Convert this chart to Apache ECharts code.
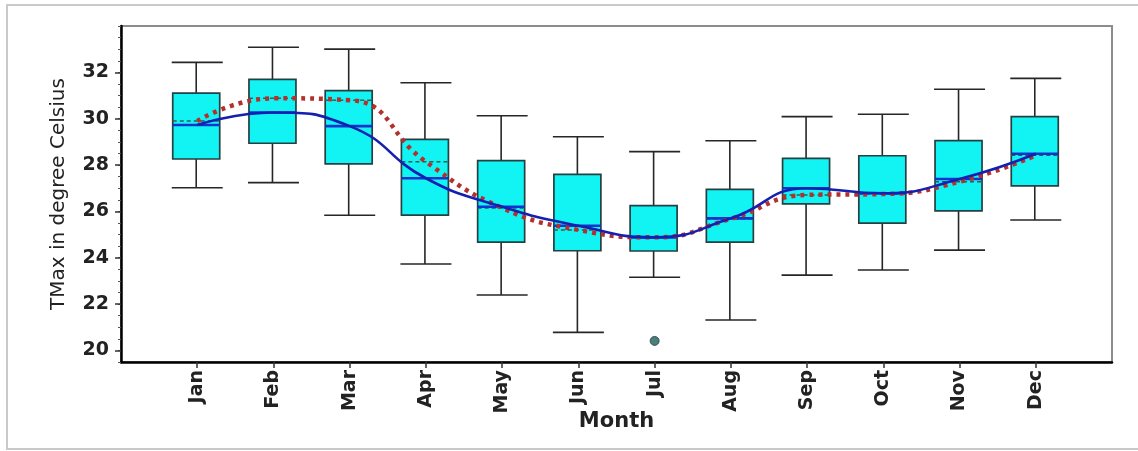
<!DOCTYPE html>
<html>
<head>
<meta charset="utf-8">
<script src="https://cdn.jsdelivr.net/npm/echarts@6/dist/echarts.min.js"></script>
<style>
  html, body { margin: 0; padding: 0; background: #ffffff; }
  #chart { width: 1138px; height: 451px; }
</style>
</head>
<body>
<div id="chart"></div>
<script>
// Monthly maximum temperature distribution (°C)
const months = ['Jan', 'Feb', 'Mar', 'Apr', 'May', 'Jun', 'Jul', 'Aug', 'Sep', 'Oct', 'Nov', 'Dec'];
const lowWhisker  = [27.02, 27.24, 25.83, 23.73, 22.39, 20.78, 23.16, 21.31, 23.25, 23.47, 24.33, 25.63];
const quartile1   = [28.26, 28.94, 28.05, 25.84, 24.67, 24.30, 24.29, 24.67, 26.32, 25.49, 26.02, 27.10];
const medians     = [29.73, 30.27, 29.68, 27.43, 26.20, 25.38, 24.88, 25.70, 27.00, 26.78, 27.40, 28.49];
const quartile3   = [31.10, 31.70, 31.21, 29.11, 28.19, 27.60, 26.25, 26.95, 28.29, 28.40, 29.05, 30.09];
const highWhisker = [32.43, 33.08, 33.00, 31.55, 30.13, 29.22, 28.58, 29.05, 30.09, 30.19, 31.27, 31.74];
const means       = [29.90, 30.88, 30.80, 28.14, 26.15, 25.20, 24.88, 25.68, 26.71, 26.75, 27.28, 28.42];
const outlierMonths = ['Jul'];
const outlierValues = [20.41];
const yTickValues = [20, 22, 24, 26, 28, 30, 32];

// Category axis padded with an empty slot on each side
const axisCategories = [''].concat(months, ['']);
const pos = m => months.indexOf(m) + 1;

const boxData = months.map((m, i) => [pos(m), lowWhisker[i], quartile1[i], medians[i], quartile3[i], highWhisker[i], means[i]]);
const medianLine = months.map((m, i) => [pos(m), medians[i]]);
const meanLine = months.map((m, i) => [pos(m), means[i]]);
const outliers = outlierMonths.map((m, i) => [pos(m), outlierValues[i]]);

const BOX_W = 47;
const CAP_W = 51;

function renderBox(params, api) {
  const x = api.value(0);
  const lo = api.coord([x, api.value(1)]);
  const q1 = api.coord([x, api.value(2)]);
  const md = api.coord([x, api.value(3)]);
  const q3 = api.coord([x, api.value(4)]);
  const hi = api.coord([x, api.value(5)]);
  const mn = api.coord([x, api.value(6)]);
  const cx = lo[0] - 1;
  const bl = cx - BOX_W / 2, br = cx + BOX_W / 2;
  const cl = cx - CAP_W / 2 + 1, cr = cx + CAP_W / 2 + 1;
  const wStyle = { stroke: '#262626', lineWidth: 1.6 };
  return {
    type: 'group',
    children: [
      { type: 'line', shape: { x1: cx, y1: hi[1], x2: cx, y2: q3[1] }, style: wStyle },
      { type: 'line', shape: { x1: cx, y1: q1[1], x2: cx, y2: lo[1] }, style: wStyle },
      { type: 'line', shape: { x1: cl, y1: hi[1], x2: cr, y2: hi[1] }, style: wStyle },
      { type: 'line', shape: { x1: cl, y1: lo[1], x2: cr, y2: lo[1] }, style: wStyle },
      { type: 'rect', shape: { x: bl, y: q3[1], width: BOX_W, height: q1[1] - q3[1] },
        style: { fill: '#12f4f4', stroke: '#263f40', lineWidth: 1.7 } },
      { type: 'line', shape: { x1: bl, y1: mn[1], x2: br, y2: mn[1] },
        style: { stroke: '#2f5f52', lineWidth: 1.5, lineDash: [4, 3] } },
      { type: 'line', shape: { x1: bl, y1: md[1], x2: br, y2: md[1] },
        style: { stroke: '#1432cc', lineWidth: 2.6 } }
    ]
  };
}

const chart = echarts.init(document.getElementById('chart'), null, { renderer: 'canvas' });

const option = {
  backgroundColor: '#ffffff',
  animation: false,
  textStyle: { fontFamily: 'DejaVu Sans' },
  graphic: [
    { type: 'rect', shape: { x: 7, y: 5, width: 1150, height: 444 },
      style: { fill: 'none', stroke: '#c9c9c9', lineWidth: 2 }, z: -1 }
  ],
  grid: {
    left: 121, right: 26, top: 26, bottom: 89,
    show: true, borderColor: '#8c8c8c', borderWidth: 2, backgroundColor: '#ffffff'
  },
  xAxis: {
    type: 'category',
    data: axisCategories,
    boundaryGap: false,
    name: 'Month',
    nameLocation: 'middle',
    nameGap: 49,
    nameMoveOverlap: false,
    nameTextStyle: { fontFamily: 'DejaVu Sans', fontWeight: 'bold', fontSize: 21, color: '#222' },
    axisLine: { show: true, lineStyle: { color: '#000', width: 2.5 } },
    axisTick: { show: true, length: 6, lineStyle: { color: '#333', width: 1.5 },
      interval: (idx) => idx > 0 && idx < axisCategories.length - 1 },
    axisLabel: { interval: 0, rotate: 90, margin: 8, fontFamily: 'DejaVu Sans', fontWeight: 'bold', fontSize: 19, color: '#222' },
    splitLine: { show: false }
  },
  yAxis: [
    {
      type: 'value', min: 19.5, max: 34, interval: 0.5, position: 'left',
      axisLine: { show: true, lineStyle: { color: '#000', width: 2.5 } },
      axisTick: { show: true, length: 3, lineStyle: { color: '#555', width: 1 } },
      axisLabel: { show: false },
      splitLine: { show: false }
    },
    {
      type: 'value', min: 19.5, max: 34, position: 'left',
      name: 'TMax in degree Celsius',
      nameLocation: 'middle',
      nameGap: 52,
      nameMoveOverlap: false,
      nameTextStyle: { fontFamily: 'DejaVu Sans', fontSize: 20, color: '#222' },
      axisLine: { show: false },
      axisTick: { show: true, length: 6, customValues: yTickValues, lineStyle: { color: '#333', width: 1.5 } },
      axisLabel: { customValues: yTickValues, margin: 12, fontFamily: 'DejaVu Sans', fontWeight: 'bold', fontSize: 19, color: '#222' },
      splitLine: { show: false }
    }
  ],
  series: [
    {
      type: 'custom',
      renderItem: renderBox,
      data: boxData,
      encode: { x: 0, y: [1, 2, 3, 4, 5] },
      z: 2
    },
    {
      type: 'line',
      data: meanLine,
      smooth: 0.5,
      showSymbol: false,
      lineStyle: { color: '#b3302c', width: 4.5, type: [4, 5] },
      z: 3
    },
    {
      type: 'line',
      data: medianLine,
      smooth: 0.5,
      showSymbol: false,
      lineStyle: { color: '#1520b0', width: 2.6 },
      z: 4
    },
    {
      type: 'scatter',
      data: outliers,
      symbol: 'circle',
      symbolSize: 9,
      itemStyle: { color: '#1f5e59', borderColor: '#17423f', borderWidth: 1 },
      z: 5
    }
  ]
};

chart.setOption(option);
</script>
</body>
</html>
